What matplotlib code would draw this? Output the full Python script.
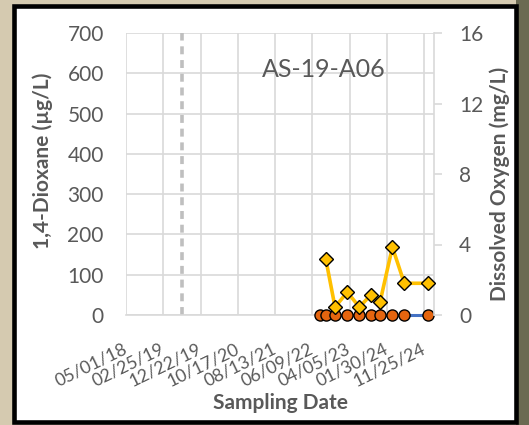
import numpy as np
import matplotlib
matplotlib.use("Agg")
import matplotlib.pyplot as plt
import matplotlib.transforms as mtransforms
from matplotlib.patches import Rectangle
from datetime import datetime

plt.rcParams['font.family'] = ['Lato', 'DejaVu Sans']

well_name = "AS-19-A06"
tick_labels = ["05/01/18", "02/25/19", "12/22/19", "10/17/20", "08/13/21",
               "06/09/22", "04/05/23", "01/30/24", "11/25/24"]
x_end = "02/13/25"
event_date = "07/25/19"

# 1,4-dioxane samples (all non-detect, plotted at 0)
dioxane_dates = ["08/10/22", "09/25/22", "12/09/22", "03/18/23", "06/23/23",
                 "09/25/23", "12/07/23", "03/15/24", "06/19/24", "12/25/24"]
dioxane_ugL = [0, 0, 0, 0, 0, 0, 0, 0, 0, 0]

# dissolved oxygen
do_dates = ["09/25/22", "12/09/22", "03/18/23", "06/23/23", "09/25/23",
            "12/07/23", "03/15/24", "06/19/24", "12/25/24"]
do_mgL = [3.2, 0.45, 1.3, 0.45, 1.15, 0.75, 3.85, 1.8, 1.8]

def d(s):
    return datetime.strptime(s, "%m/%d/%y")

txt = '#595959'
grid = '#D9D9D9'

fig = plt.figure(figsize=(5.29, 4.25), dpi=100)
fig.patch.set_facecolor('#d5cab0')
fig.patches.append(Rectangle((515.5 / 529, 0), 14 / 529, 1, transform=fig.transFigure,
                             facecolor='#6b6a52', edgecolor='none', zorder=0))
fig.patches.append(Rectangle((14 / 529, 3.5 / 425), 501.5 / 529, 416 / 425,
                             transform=fig.transFigure, facecolor='white',
                             edgecolor='black', linewidth=3.3, zorder=1))

ax = fig.add_axes([126 / 529, 110 / 425, 308 / 529, 282 / 425])
ax.set_facecolor('none')
ax.set_zorder(2)

ax.plot([d(s) for s in dioxane_dates], dioxane_ugL, color='#4472C4', lw=2.2,
        marker='o', ms=8, mfc='#E5650F', mec='black', mew=1.0, zorder=3, clip_on=False)
ev = d(event_date)
ax.plot([ev, ev], [0, 700], color='#BFBFBF', lw=2.6, ls=(0, (2.2, 1.6)), zorder=2)

ax.set_xlim(d(tick_labels[0]), d(x_end))
ax.set_ylim(0, 700)
ax.set_xticks([d(s) for s in tick_labels])
ax.set_xticklabels(tick_labels, rotation=26, ha='right', va='center',
                   rotation_mode='anchor', fontsize=12.8, color=txt)
shift = mtransforms.ScaledTranslation(5 / 100, 0, fig.dpi_scale_trans)
for lab in ax.get_xticklabels():
    lab.set_transform(lab.get_transform() + shift)
ax.set_yticks(np.arange(0, 701, 100))
ax.tick_params(axis='y', length=0, pad=16, labelsize=15, labelcolor=txt)
ax.tick_params(axis='x', length=0, pad=23.5)
ax.grid(True, color=grid, lw=1.2)
ax.set_axisbelow(True)
for s in ['top', 'left', 'right']:
    ax.spines[s].set_visible(False)
ax.spines['bottom'].set_color(grid)
ax.spines['bottom'].set_linewidth(1.2)

ax.set_ylabel("1,4-Dioxane (µg/L)", fontsize=15, fontweight='bold', color=txt)
ax.yaxis.set_label_coords(-0.27, 0.546)
ax.set_xlabel("Sampling Date", fontsize=15, fontweight='bold', color=txt)
ax.xaxis.set_label_coords(0.503, -0.312)
ax.xaxis.label.set_va('center')
ax.yaxis.label.set_va('center')

ax.text(0.643, 0.869, well_name, transform=ax.transAxes, fontsize=18,
        color=txt, ha='center', va='center')

ax2 = ax.twinx()
ax2.plot([d(s) for s in do_dates], do_mgL, color='#FFC000', lw=2.6,
         marker='D', ms=7, mfc='#FFC000', mec='black', mew=1.0, zorder=3, clip_on=False)
ax2.set_ylim(0, 16)
ax2.set_yticks([0, 4, 8, 12, 16])
ax2.tick_params(axis='y', length=6, width=1.2, color=grid, pad=12, labelsize=15, labelcolor=txt)
for s in ['top', 'left', 'bottom']:
    ax2.spines[s].set_visible(False)
ax2.spines['right'].set_color(grid)
ax2.spines['right'].set_linewidth(1.2)
ax2.set_ylabel("Dissolved Oxygen (mg/L)", fontsize=15, fontweight='bold', color=txt,
               rotation=90)
ax2.yaxis.set_label_coords(1.214, 0.463)
ax2.yaxis.label.set_va('center')

fig.savefig("out.png", dpi=100, facecolor=fig.get_facecolor())
